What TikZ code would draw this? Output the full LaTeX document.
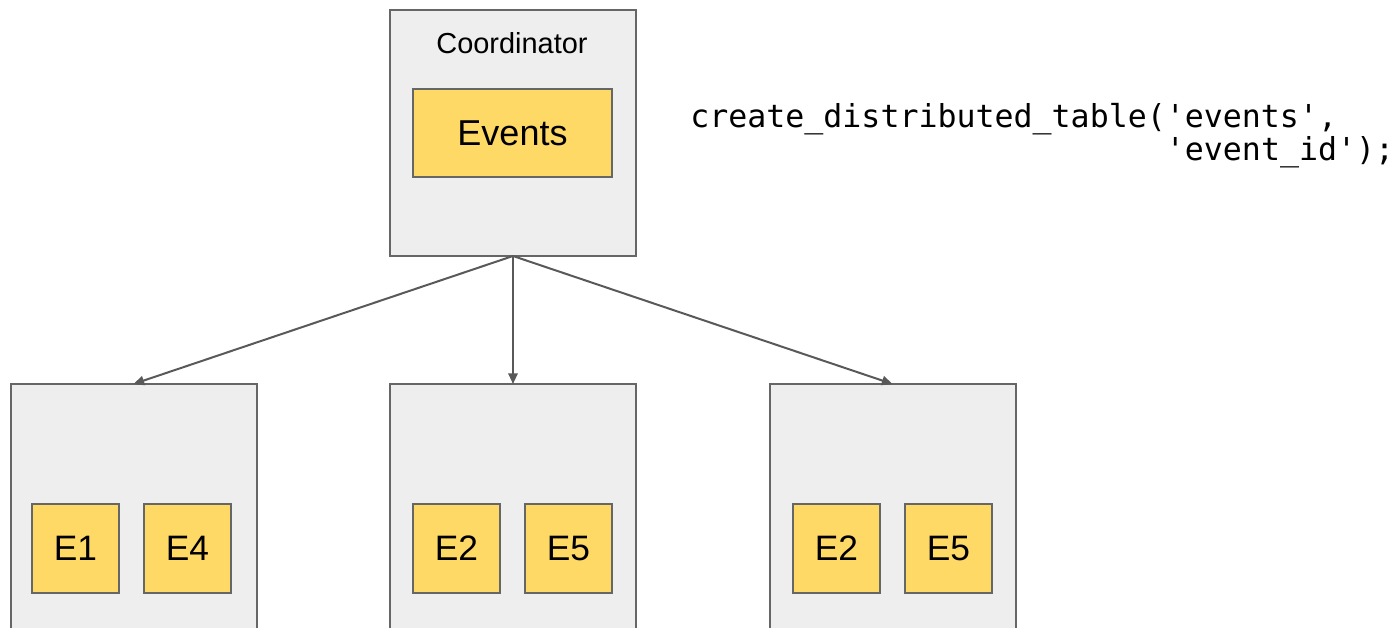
\documentclass[tikz,border=0pt]{standalone}
\usepackage{fontspec}
\setmainfont{Liberation Sans}
\setmonofont{DejaVu Sans Mono}
\usetikzlibrary{arrows.meta}
\definecolor{nodegray}{HTML}{EEEEEE}
\definecolor{edgegray}{HTML}{666666}
\definecolor{arrowgray}{HTML}{595959}
\definecolor{shardyellow}{HTML}{FFD966}
\tikzset{
  server/.style={draw=edgegray, fill=nodegray, line width=1.5pt, inner sep=0pt, outer sep=0pt,
    minimum width=184.5pt, minimum height=184.5pt},
  tablebox/.style={draw=edgegray, fill=shardyellow, line width=1.5pt, inner sep=0pt, outer sep=0pt,
    minimum width=149.25pt, minimum height=66pt, font=\fontsize{27}{31}\selectfont},
  shard/.style={draw=edgegray, fill=shardyellow, line width=1.5pt, inner sep=0pt, outer sep=0pt,
    minimum width=65.25pt, minimum height=66.75pt, font=\fontsize{26.5}{30}\selectfont},
  link/.style={draw=arrowgray, line width=1.5pt, -{Triangle[length=8pt,width=7pt]}},
}
\begin{document}
\begin{tikzpicture}[x=0.75pt, y=-0.75pt]
  \useasboundingbox (0,0) rectangle (1397,628);
  \clip (0,0) rectangle (1397,628);

  % coordinator node
  \node[server] (coord) at (513,133) {};
  \node[anchor=base, font=\fontsize{21.7}{26}\selectfont] (coordlabel) at (512,53) {Coordinator};
  \node[tablebox] (events) at (512.5,133) {Events};

  % worker nodes (extend past the lower edge)
  \node[server, anchor=north] (w1) at (133.5,384) {};
  \node[server, anchor=north] (w2) at (513,384) {};
  \node[server, anchor=north] (w3) at (892.5,384) {};

  % shards on each worker
  \node[shard] (w1a) at (75.5,548.5) {E1};
  \node[shard] (w1b) at (187.5,548.5) {E4};
  \node[shard] (w2a) at (456.5,548.5) {E2};
  \node[shard] (w2b) at (568.5,548.5) {E5};
  \node[shard] (w3a) at (836.5,548.5) {E2};
  \node[shard] (w3b) at (948.5,548.5) {E5};

  % distribution arrows
  \coordinate (split) at (coord.south);
  \draw[link] (split) -- (w1.north);
  \draw[link] (split) -- (w2.north);
  \draw[link] (split) -- (w3.north);

  % SQL call (anchored on the baseline of its second line)
  \node[anchor=base west, align=left, inner sep=0pt, font=\ttfamily\fontsize{23.7}{24.4}\selectfont] (sql) at (690,160.5)
    {create\_distributed\_table('events',\\\phantom{create\_distributed\_table(}'event\_id');};
\end{tikzpicture}
\end{document}
